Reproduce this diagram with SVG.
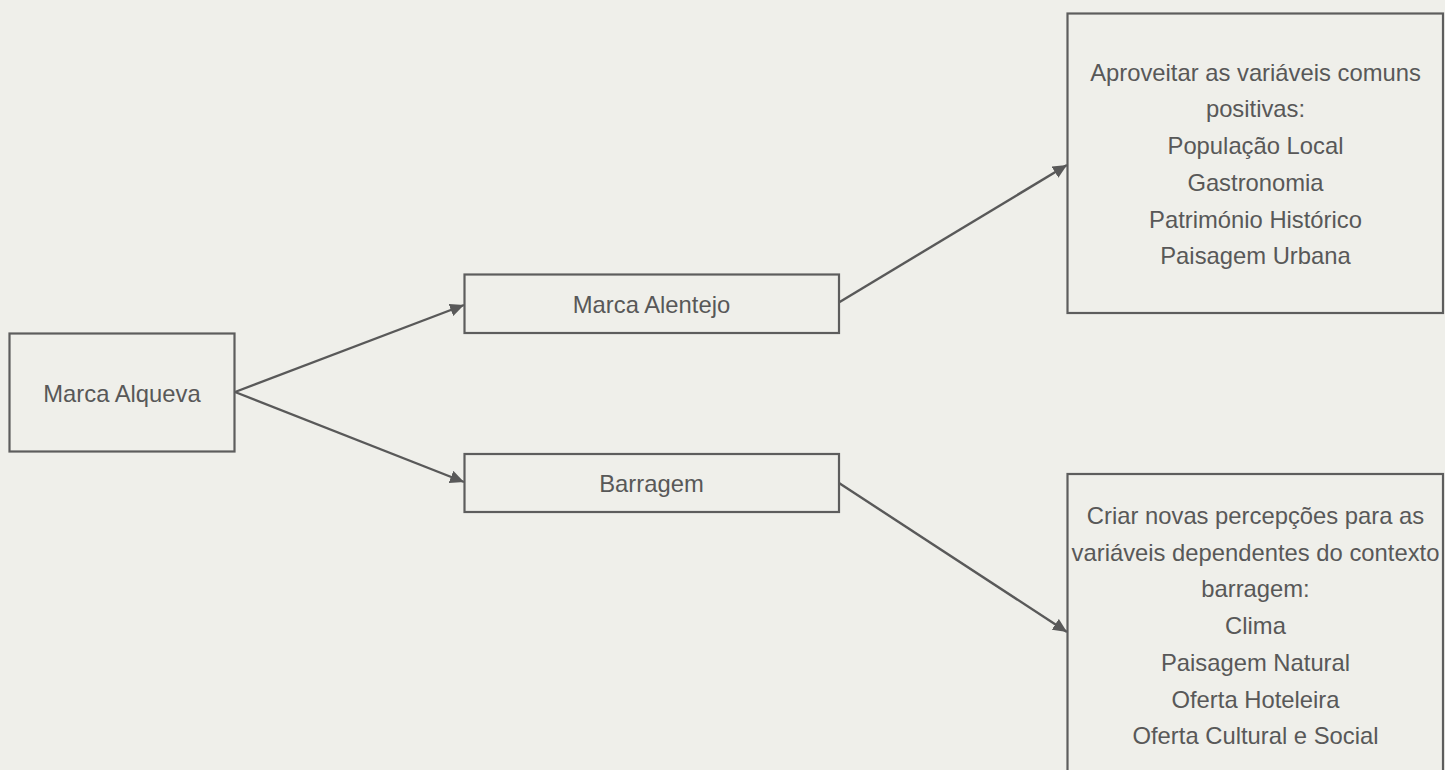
<svg xmlns="http://www.w3.org/2000/svg" width="1445" height="770" viewBox="0 0 1445 770">
<defs>
<marker id="arr" markerWidth="15" markerHeight="13" refX="14" refY="6.5" orient="auto" markerUnits="userSpaceOnUse">
<path d="M0,0 L14,6.5 L0,13 Z" fill="#595959"/>
</marker>
<style>
.box{fill:#efefea;stroke:#5d5d5d;stroke-width:2.2}
.t{font-family:"Liberation Sans",Arial,sans-serif;font-size:23.8px;fill:#585858;text-anchor:middle}
.c{stroke:#595959;stroke-width:2.4;fill:none;marker-end:url(#arr)}
</style>
</defs>
<rect width="1445" height="770" fill="#efefea"/>
<g id="connectors">
<line class="c" x1="235" y1="392" x2="464" y2="305"/>
<line class="c" x1="235" y1="392" x2="464" y2="482"/>
<line class="c" x1="838" y1="303" x2="1067" y2="165"/>
<line class="c" x1="839" y1="483" x2="1067" y2="632"/>
</g>
<g id="marca-alqueva">
<rect class="box" x="9.5" y="333.5" width="225" height="118"/>
<text class="t" x="122" y="401.5">Marca Alqueva</text>
</g>
<g id="marca-alentejo">
<rect class="box" x="464.5" y="274.5" width="374.5" height="58.5"/>
<text class="t" x="651.5" y="313.3">Marca Alentejo</text>
</g>
<g id="barragem">
<rect class="box" x="464.5" y="454" width="374.5" height="58"/>
<text class="t" x="651.5" y="492.3">Barragem</text>
</g>
<g id="aproveitar">
<rect class="box" x="1067.5" y="13.5" width="375.5" height="299.5"/>
<text class="t" x="1255.5" y="80.7">Aproveitar as variáveis comuns</text>
<text class="t" x="1255.5" y="117.4">positivas:</text>
<text class="t" x="1255.5" y="154.1">População Local</text>
<text class="t" x="1255.5" y="190.8">Gastronomia</text>
<text class="t" x="1255.5" y="227.5">Património Histórico</text>
<text class="t" x="1255.5" y="264.2">Paisagem Urbana</text>
</g>
<g id="criar">
<rect class="box" x="1067.5" y="474" width="375.5" height="310"/>
<text class="t" x="1255.5" y="524">Criar novas percepções para as</text>
<text class="t" x="1255.5" y="560.7">variáveis dependentes do contexto</text>
<text class="t" x="1255.5" y="597.4">barragem:</text>
<text class="t" x="1255.5" y="634.1">Clima</text>
<text class="t" x="1255.5" y="670.8">Paisagem Natural</text>
<text class="t" x="1255.5" y="707.5">Oferta Hoteleira</text>
<text class="t" x="1255.5" y="744.2">Oferta Cultural e Social</text>
</g>
</svg>
